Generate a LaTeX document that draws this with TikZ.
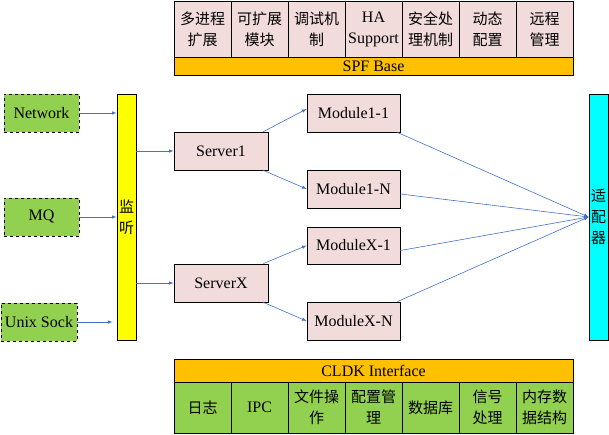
\documentclass[tikz,border=0pt]{standalone}
\usepackage{fontspec}
\setmainfont{Liberation Serif}
\newfontfamily\cjk{Noto Sans CJK SC}
\usepackage{tikz}
\usetikzlibrary{arrows}
\usetikzlibrary{positioning}

\definecolor{cellpink}{RGB}{242,220,219}
\definecolor{basegold}{RGB}{255,192,0}
\definecolor{srcgreen}{RGB}{146,208,80}
\definecolor{linkblue}{RGB}{68,114,196}
\definecolor{lisyellow}{RGB}{255,255,0}
\definecolor{adpcyan}{RGB}{0,255,255}

\tikzset{
  txt/.style={font=\fontsize{16}{21}\selectfont},
  zh/.style={font=\cjk\fontsize{15}{21}\selectfont},
  cell/.style={draw,line width=0.8pt,fill=cellpink,minimum width=57,minimum height=56,inner sep=0pt,align=center},
  gcell/.style={cell,fill=srcgreen,minimum height=51},
  bar/.style={draw,line width=0.8pt,fill=basegold,inner sep=0pt,minimum width=399},
  src/.style={draw,dashed,line width=0.8pt,fill=srcgreen,minimum width=75,minimum height=38,inner sep=0pt,txt},
  box/.style={draw,line width=0.8pt,fill=cellpink,minimum height=38,inner sep=0pt,txt},
  vbar/.style={draw,line width=0.8pt,minimum width=19,minimum height=246,inner sep=0pt,align=center,zh},
  link/.style={linkblue,line width=0.6pt,-latex},
}

\begin{document}
\begin{tikzpicture}[x=1pt,y=-1pt]
\useasboundingbox (0,0) rectangle (609,435);

\node[cell,zh] (dj) at (202.5,29) {多进程\\扩展};
\node[cell,zh] (kz) at (259.5,29) {可扩展\\模块};
\node[cell,zh] (ts) at (316.5,29) {调试机\\制};
\node[cell,txt] (ha) at (373.5,29) {HA\\Support};
\node[cell,zh] (aq) at (430.5,29) {安全处\\理机制};
\node[cell,zh] (dt) at (487.5,29) {动态\\配置};
\node[cell,zh] (yc) at (544.5,29) {远程\\管理};
\node[bar,minimum height=18,txt] (spf) at (373.5,66) {SPF Base};

\node[src] (net) at (41.5,113) {Network};
\node[src] (mq) at (41.5,217) {MQ};
\node[src,minimum width=76] (sock) at (39,322) {Unix Sock};
\node[vbar,fill=lisyellow] (lis) at (126.5,217) {监\\听};

\node[box,minimum width=94] (srv1) at (221,151) {Server1};
\node[box,minimum width=94] (srvx) at (221,283) {ServerX};

\node[box,minimum width=93] (m11) at (353.5,113) {Module1-1};
\node[box,minimum width=93] (m1n) at (353.5,189) {Module1-N};
\node[box,minimum width=93,minimum height=37] (mx1) at (353.5,245.5) {ModuleX-1};
\node[box,minimum width=93] (mxn) at (353.5,321) {ModuleX-N};

\node[vbar,fill=adpcyan] (adp) at (598.5,217) {适\\配\\器};

\node[bar,minimum height=23,txt] (cldk) at (373.5,370.5) {CLDK Interface};
\node[gcell,zh] (rz) at (202.5,407.5) {日志};
\node[gcell,txt] (ipc) at (259.5,407.5) {IPC};
\node[gcell,zh] (wj) at (316.5,407.5) {文件操\\作};
\node[gcell,zh] (pz) at (373.5,407.5) {配置管\\理};
\node[gcell,zh] (sj) at (430.5,407.5) {数据库};
\node[gcell,zh] (xh) at (487.5,407.5) {信号\\处理};
\node[gcell,zh] (nc) at (544.5,407.5) {内存数\\据结构};

\draw[link] (net.east) -- (net.east -| lis.west);
\draw[link] (mq.east) -- (mq.east -| lis.west);
\draw[link,shorten >=4pt] (sock.east) -- (sock.east -| lis.west);

\draw[link] (srv1.west -| lis.east) -- (srv1.west);
\draw[link] (srvx.west -| lis.east) -- (srvx.west);

\draw[link] ([xshift=-5pt]srv1.north east) -- ([yshift=4pt]m11.west);
\draw[link] ([xshift=-5pt]srv1.south east) -- (m1n.west);
\draw[link] ([xshift=-5pt]srvx.north east) -- (mx1.west);
\draw[link] ([xshift=-5pt]srvx.south east) -- (mxn.west);

\draw[link] ([xshift=-3pt]m11.south east) -- (adp.west);
\draw[link] ([yshift=-5pt]m1n.east) -- (adp.west);
\draw[link] ([yshift=-5pt]mx1.east) -- (adp.west);
\draw[link] ([xshift=-3pt]mxn.north east) -- (adp.west);
\end{tikzpicture}
\end{document}
